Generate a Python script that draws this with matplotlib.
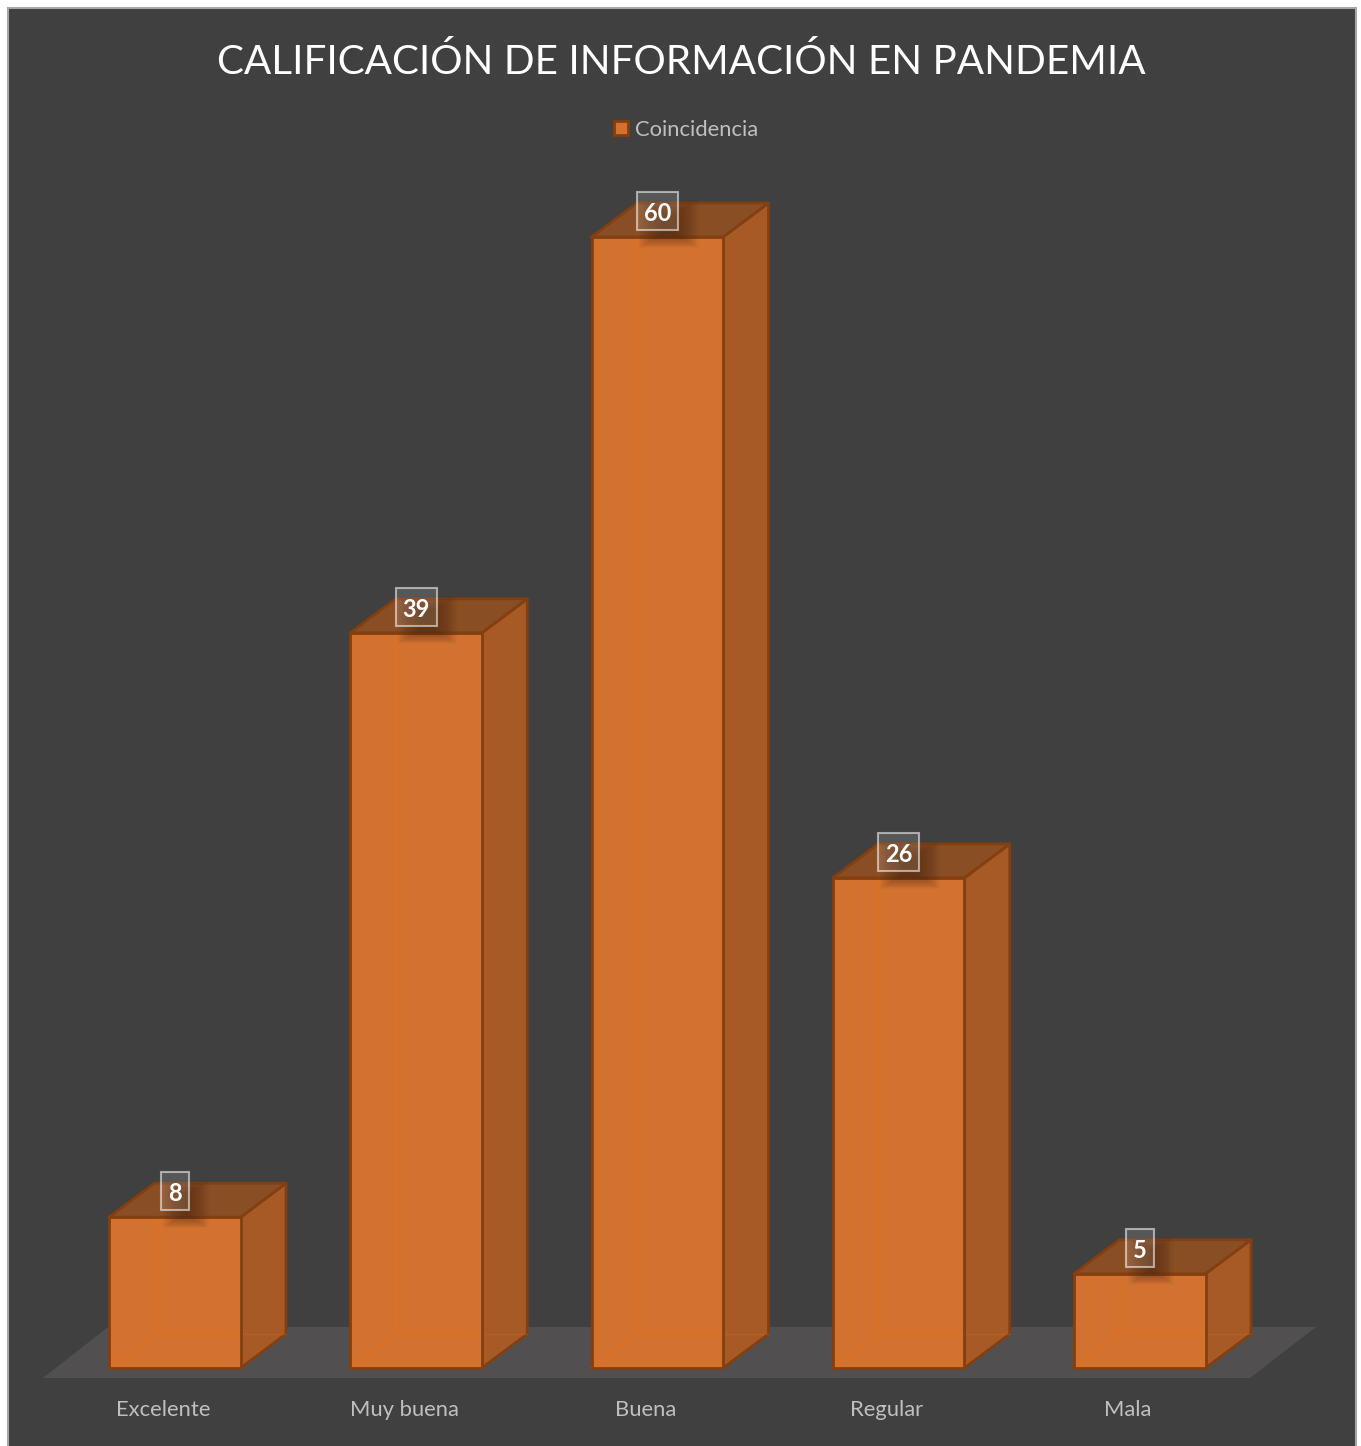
import matplotlib
matplotlib.use("Agg")
import matplotlib.pyplot as plt
from matplotlib.patches import Polygon, Rectangle, Patch

categories = ["Excelente", "Muy buena", "Buena", "Regular", "Mala"]
values = [8, 39, 60, 26, 5]
series_name = "Coincidencia"
title = "CALIFICACIÓN DE INFORMACIÓN EN PANDEMIA"

W, H = 1361, 1446
BG = "#404040"
FRONT = "#D3722F"
SIDE = "#A75A26"
TOP = "#8A4E25"
EDGE = "#843F10"
INNER = "#E07020"
FLOOR = "#524F50"
TXT = "#BFBFBF"

plt.rcParams["font.family"] = ["Lato", "DejaVu Sans"]
fig = plt.figure(figsize=(W / 100, H / 100), dpi=100, facecolor="white")
fig.add_artist(Rectangle((8 / W, -0.01), 1348 / W, 1 - 8 / H + 0.01, transform=fig.transFigure,
                         facecolor=BG, edgecolor="#A6A6A6", lw=1.5, zorder=-5))

# axes: bottom edge on the front of the floor
ax = fig.add_axes([0, (H - 1378) / H, 1, 1378 / H])
ax.patch.set_alpha(0)
PX_X = 241.25   # px per category
PX_Y = 18.85    # px per unit
ax.set_xlim(-175 / PX_X, (W - 175) / PX_X)
ax.set_ylim(-10 / PX_Y, 1368 / PX_Y)
for s in ax.spines.values():
    s.set_visible(False)
ax.set_yticks([])

half_l = 66 / PX_X
half_r = 65.5 / PX_X
dx = 45.5 / PX_X
dy = 34 / PX_Y
yfront = -10 / PX_Y

ax.add_patch(Polygon([(-132 / PX_X, yfront), (1075 / PX_X, yfront), (1141 / PX_X, 41 / PX_Y),
                      (-67 / PX_X, 41 / PX_Y)], closed=True, fc=FLOOR, ec="none", zorder=1))

for i, v in enumerate(values):
    l, r = i - half_l, i + half_r
    z = 2 + i * 0.01
    ax.add_patch(Polygon([(r, 0), (r + dx, dy), (r + dx, v + dy), (r, v)], closed=True,
                         fc=SIDE, ec=EDGE, lw=2, joinstyle="round", zorder=z + .1))
    ax.add_patch(Polygon([(l, v), (l + dx, v + dy), (r + dx, v + dy), (r, v)], closed=True,
                         fc=TOP, ec=EDGE, lw=2, joinstyle="round", zorder=z + .1))
    ax.add_patch(Rectangle((l, 0), r - l, v, fc=FRONT, ec="none", zorder=z + .2))
    # hidden edges seen through the translucent front
    ax.plot([l + dx, l + dx, r], [v, dy, dy], color=INNER, lw=1.1, zorder=z + .25)
    ax.plot([r, r + dx], [dy, dy], color=INNER, lw=1, alpha=.25, zorder=z + .15)
    ax.plot([l, l + dx], [0, dy], color=INNER, lw=1.1, zorder=z + .25)
    ax.add_patch(Rectangle((l, 0), r - l, v, fc="none", ec=EDGE, lw=2, zorder=z + .3))

    # soft shadow beneath the data label
    w = (41 if v >= 10 else 28) / PX_X
    sw = (60 if v >= 10 else 46) / PX_X
    for k in range(18):
        ax.add_patch(Rectangle((i + 11 / PX_X - sw / 2 + k * 1.3 / PX_X, v + (-11 + k * 0.8) / PX_Y),
                               sw - k * 2.6 / PX_X, (48 - 1.6 * k) / PX_Y,
                               fc="#3A2010", ec="none", alpha=0.03, zorder=z + .4))
    ax.text(i, v + 23.5 / PX_Y, str(v), ha="center", va="center", color="white", fontsize=17,
            fontweight="bold", zorder=z + .6)
    ax.add_patch(Rectangle((i - w / 2, v + 7 / PX_Y), w, 38 / PX_Y, fc=(1, 1, 1, 0.12),
                           ec=(1, 1, 1, 0.55), lw=1.5, zorder=z + .5))

ax.set_xticks([i - 12 / PX_X for i in range(len(categories))], categories)
ax.tick_params(axis="x", length=0, pad=16, labelsize=15.8, labelcolor=TXT)

fig.text(681.5 / W, 1 - 61.5 / H, title, ha="center", va="center", color="white", fontsize=29.1)

ax.legend(handles=[Patch(fc=FRONT, ec=EDGE, lw=2, label=series_name)], loc="center",
          bbox_to_anchor=(686 / W, (1378 - 130) / 1378), frameon=False, fontsize=15.8,
          labelcolor=TXT, handlelength=0.62, handleheight=0.62, handletextpad=0.3,
          borderpad=0, borderaxespad=0)

fig.savefig("out.png", dpi=100, facecolor="white")
